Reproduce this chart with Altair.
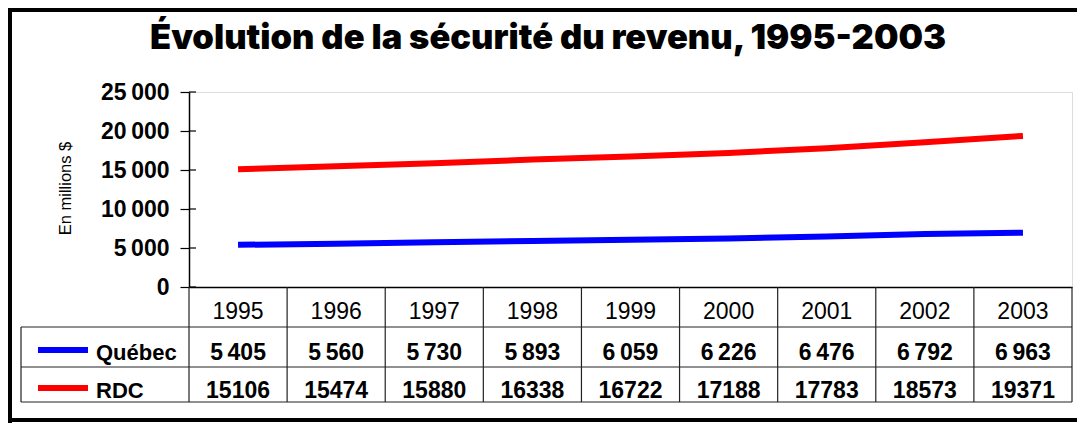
import altair as alt
import pandas as pd

# ---- data ----
years = ["1995", "1996", "1997", "1998", "1999", "2000", "2001", "2002", "2003"]
quebec = [5405, 5560, 5730, 5893, 6059, 6226, 6476, 6792, 6963]
rdc = [15106, 15474, 15880, 16338, 16722, 17188, 17783, 18573, 19371]
series_names = ["Québec", "RDC"]
series_colors = ["#0000FF", "#FF0000"]
y_ticks = [0, 5000, 10000, 15000, 20000, 25000]
title_text = "Évolution de la sécurité du revenu, 1995-2003"
y_title = "En millions $"

TS = "\u2009"


def fmt_fr(v):
    return f"{v:,}".replace(",", TS)


rows = []
for i, yr in enumerate(years):
    rows.append(dict(year=yr, series="Québec", value=quebec[i], label=fmt_fr(quebec[i])))
    rows.append(dict(year=yr, series="RDC", value=rdc[i], label=str(rdc[i])))
df = pd.DataFrame(rows)
years_df = pd.DataFrame({"year": years})
series_df = pd.DataFrame({"series": series_names})
ticks_df = pd.DataFrame({"v": y_ticks})
title_df = pd.DataFrame({"t": [title_text]})

# ---- layout ----
W, H = 883, 195
PL, PT = 181, 84

x_scale = alt.Scale(domain=years, paddingInner=0, paddingOuter=0)
y_scale = alt.Scale(domain=[0, 25000])
color_scale = alt.Scale(domain=series_names, range=series_colors)

x_axis = alt.Axis(labels=False, ticks=False, domain=True, domainColor="black",
                  domainWidth=1.5, title=None, grid=False)
y_axis = alt.Axis(
    values=y_ticks,
    labelExpr="replace(format(datum.value, ','), ',', '\u2009')",
    labelFont="Liberation Sans", labelFontSize=23, labelFontWeight="bold",
    labelColor="black",
    labelPadding=11, tickSize=9, tickColor="black", tickWidth=1.2,
    domainColor="black", domainWidth=1.5, grid=False,
    title=y_title, titleFont="Liberation Sans", titleFontSize=16.5,
    titleFontWeight="normal", titleColor="black", titleAngle=270,
    titleX=-124, titleY=96, titleAlign="center", titleBaseline="middle",
)

X = alt.X("year:N", scale=x_scale, axis=x_axis)
Y = alt.Y("value:Q", scale=y_scale, axis=y_axis)

lines = alt.Chart(df).mark_line(strokeWidth=6, strokeCap="butt").encode(
    x=X, y=Y,
    color=alt.Color("series:N", scale=color_scale, legend=None),
)

tick_stubs = alt.Chart(ticks_df).mark_rule(color="black", strokeWidth=1.2).encode(
    y=alt.Y("v:Q", scale=y_scale, axis=y_axis),
    x=alt.value(0), x2=alt.value(7),
)

title_layer = alt.Chart(title_df).mark_text(
    font="Inter", fontSize=34.5, fontWeight=900, color="black",
    align="center", baseline="alphabetic",
).encode(text="t:N", x=alt.value(359), y=alt.value(-43))

# table: year header row
year_text = alt.Chart(years_df).mark_text(
    font="Liberation Sans", fontSize=23, color="black", baseline="alphabetic",
).encode(x=X, y=alt.value(227), text="year:N")

val_layers = []
for s, ybase in zip(series_names, [268, 306]):
    val_layers.append(
        alt.Chart(df).transform_filter(alt.datum.series == s).mark_text(
            font="Liberation Sans", fontSize=23, fontWeight="bold", color="black",
            baseline="alphabetic",
        ).encode(x=X, y=alt.value(ybase), text="label:N")
    )

label_layers = []
for s, ybase, yline in zip(series_names, [268, 306], [258, 296]):
    label_layers.append(
        alt.Chart(series_df).transform_filter(alt.datum.series == s).mark_text(
            font="Liberation Sans", fontSize=22, fontWeight="bold", color="black",
            align="left", baseline="alphabetic",
        ).encode(x=alt.value(-93), y=alt.value(ybase), text="series:N")
    )
    label_layers.append(
        alt.Chart(series_df).transform_filter(alt.datum.series == s).mark_rule(
            strokeWidth=6, strokeCap="butt",
        ).encode(
            x=alt.value(-151), x2=alt.value(-101), y=alt.value(yline),
            color=alt.Color("series:N", scale=color_scale, legend=None),
        )
    )

# table grid
grid_color = "#222222"
vlines = alt.Chart(years_df).mark_rule(color=grid_color, strokeWidth=1.2).encode(
    x=alt.X("year:N", scale=x_scale, axis=x_axis, bandPosition=0),
    y=alt.value(H), y2=alt.value(310),
)
vline_end = alt.Chart().mark_rule(color=grid_color, strokeWidth=1.2).encode(
    x=alt.value(W), y=alt.value(H), y2=alt.value(310))
vline_left = alt.Chart().mark_rule(color=grid_color, strokeWidth=1.2).encode(
    x=alt.value(-168), y=alt.value(235), y2=alt.value(310))
hlines = [
    alt.Chart().mark_rule(color=grid_color, strokeWidth=1.2).encode(
        x=alt.value(-168), x2=alt.value(W), y=alt.value(yy))
    for yy in (235, 275, 310)
]

# outer frame
frame = [
    alt.Chart().mark_rule(color="black", strokeWidth=4).encode(
        x=alt.value(-179), y=alt.value(-84), y2=alt.value(331)),
    alt.Chart().mark_rule(color="black", strokeWidth=4).encode(
        x=alt.value(-181), x2=alt.value(W + 10), y=alt.value(-82)),
    alt.Chart().mark_rule(color="black", strokeWidth=4).encode(
        x=alt.value(-181), x2=alt.value(W + 10), y=alt.value(328)),
]

chart = alt.layer(
    lines, tick_stubs, title_layer, year_text, *val_layers, *label_layers,
    vlines, vline_end, vline_left, *hlines, *frame,
).properties(
    width=W, height=H,
    autosize=alt.AutoSizeParams(type="none"),
    padding={"left": PL, "top": PT, "right": 5, "bottom": 136},
).configure_view(
    stroke="#808080", strokeWidth=1.5,
).configure(background="white")

chart.save("out.html", embed_options={"renderer": "svg", "actions": False})
